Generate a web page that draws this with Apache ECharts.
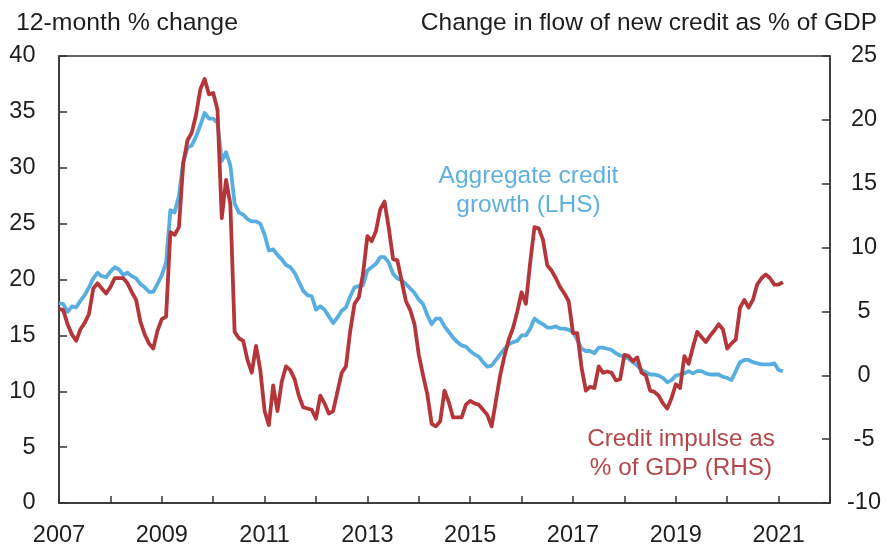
<!DOCTYPE html>
<html>
<head>
<meta charset="utf-8">
<script src="https://cdn.jsdelivr.net/npm/echarts@6/dist/echarts.min.js"></script>
<style>
html,body{margin:0;padding:0;background:#fff;}
#chart{width:890px;height:547px;}
</style>
</head>
<body>
<div id="chart"></div>
<script>
// Monthly data, starting January 2007
const startYear = 2007;
const xMin = 2007, xMax = 2022;
const leftTitle = '12-month % change';
const rightTitle = 'Change in flow of new credit as % of GDP';
const blueLabel = 'Aggregate credit\ngrowth (LHS)';
const redLabel = 'Credit impulse as\n% of GDP (RHS)';

// Aggregate credit growth, 12-month % change (LHS)
const creditGrowth = [
  17.9,17.8,17.1,17.6,17.5,18.1,18.6,19.3,20.1,20.6,20.3,20.2,
  20.7,21.1,20.9,20.4,20.6,20.3,20.1,19.6,19.3,18.9,18.9,19.6,
  20.4,21.5,26.2,26.0,27.5,30.5,31.8,32.0,32.8,33.8,34.9,34.4,
  34.4,34.0,30.6,31.4,30.2,26.8,26.0,25.8,25.4,25.2,25.2,25.0,
  24.0,22.6,22.7,22.2,21.8,21.3,21.1,20.6,19.8,19.0,18.6,18.5,
  17.3,17.6,17.3,16.7,16.1,16.6,17.2,17.5,18.5,19.3,19.4,19.5,
  20.8,21.1,21.4,22.0,22.0,21.5,20.5,20.1,19.9,19.6,19.2,18.8,
  18.2,17.8,16.8,16.0,16.5,16.5,15.8,15.3,14.8,14.4,14.1,14.0,
  13.6,13.3,13.1,12.6,12.2,12.3,12.8,13.3,13.8,14.2,14.4,14.5,
  15.0,15.0,15.6,16.5,16.2,16.0,15.7,15.7,15.8,15.6,15.6,15.5,
  15.3,14.6,13.8,13.6,13.6,13.4,13.9,13.9,13.8,13.7,13.4,13.2,
  13.1,12.9,12.6,12.3,11.9,11.7,11.5,11.5,11.4,11.2,10.8,11.0,
  11.4,11.5,11.6,11.8,11.6,11.8,11.8,11.6,11.5,11.5,11.5,11.3,
  11.2,11.0,11.8,12.6,12.8,12.8,12.6,12.5,12.4,12.4,12.4,12.5,
  11.9,11.8
];

// Credit impulse as % of GDP (RHS)
const creditImpulse = [
  5.2,5.1,4.0,3.2,2.7,3.6,4.1,4.8,6.8,7.2,6.8,6.4,
  6.9,7.6,7.6,7.6,7.2,6.5,5.9,4.2,3.2,2.5,2.1,3.5,
  4.4,4.6,11.2,11.0,11.6,16.6,18.4,19.0,20.4,22.4,23.2,22.0,
  22.1,20.8,12.3,15.3,13.4,3.4,2.9,2.7,1.2,0.2,2.3,0.4,
  -2.8,-3.9,-0.8,-2.8,-0.5,0.7,0.4,-0.3,-1.6,-2.5,-2.6,-2.7,
  -3.4,-1.6,-2.2,-3.0,-2.8,-1.3,0.2,0.7,3.5,5.6,6.1,8.0,
  10.9,10.5,11.3,13.0,13.6,11.5,9.1,9.0,7.4,5.8,5.1,4.0,
  1.6,0.0,-1.5,-3.8,-4.0,-3.6,-1.2,-2.1,-3.3,-3.3,-3.3,-2.3,
  -2.0,-2.2,-2.3,-2.7,-3.1,-4.0,-2.0,0.0,1.5,2.8,3.7,5.0,
  6.5,5.6,8.8,11.6,11.5,10.6,8.6,8.2,7.6,6.9,6.4,5.8,
  3.3,3.3,0.6,-1.2,-0.9,-1.0,0.7,0.2,0.3,0.2,-0.4,-0.3,
  1.6,1.5,1.1,1.4,0.2,0.0,-1.2,-1.3,-1.6,-2.2,-2.6,-1.8,
  -0.7,-1.0,1.5,0.9,2.2,3.4,3.0,2.6,3.1,3.5,4.0,3.6,
  2.1,2.5,2.8,5.3,5.9,5.3,5.9,7.1,7.6,7.9,7.6,7.1,
  7.1,7.3
];

const toSeries = arr => arr.map((v, i) => [startYear + i / 12, v]);

const FONT = '"Liberation Sans", Arial, Helvetica, sans-serif';
const TXT = '#1e1e1e';
const AXIS = '#333333';
const BLUE = '#58aee0';
const RED = '#b5363a';

const chart = echarts.init(document.getElementById('chart'), null, {renderer: 'canvas'});
chart.setOption({
  animation: false,
  backgroundColor: '#ffffff',
  textStyle: {fontFamily: FONT},
  grid: {left: 59, right: 60, top: 56, bottom: 44, containLabel: false, outerBoundsMode: 'none',
         show: true, borderColor: AXIS, borderWidth: 1.5, backgroundColor: 'transparent'},
  xAxis: {
    type: 'value', min: xMin, max: xMax, interval: 1,
    axisLine: {show: true, lineStyle: {color: AXIS, width: 1.5}},
    axisTick: {show: true, inside: true, length: 7, lineStyle: {color: AXIS, width: 1.5}},
    splitLine: {show: false},
    axisLabel: {
      margin: 21, fontSize: 23.5, color: TXT, fontFamily: FONT,
      formatter: v => { const y = Math.round(v); return (y % 2 === 1) ? String(y) : ''; }
    }
  },
  yAxis: [
    {
      type: 'value', min: 0, max: 40, interval: 5, position: 'left',
      axisLine: {show: true, lineStyle: {color: AXIS, width: 1.5}},
      axisTick: {show: true, inside: true, length: 8, lineStyle: {color: AXIS, width: 1.5}},
      splitLine: {show: false},
      axisLabel: {margin: 23.5, fontSize: 23.5, color: TXT, fontFamily: FONT, align: 'right'}
    },
    {
      type: 'value', min: -10, max: 25, interval: 5, position: 'right',
      axisLine: {show: true, lineStyle: {color: AXIS, width: 1.5}},
      axisTick: {show: true, inside: true, length: 8, lineStyle: {color: AXIS, width: 1.5}},
      splitLine: {show: false},
      axisLabel: {margin: 34, fontSize: 23.5, color: TXT, fontFamily: FONT, align: 'center'}
    }
  ],
  series: [
    {
      name: 'Aggregate credit growth (LHS)', type: 'line', yAxisIndex: 0,
      data: toSeries(creditGrowth), showSymbol: false, symbol: 'none',
      lineStyle: {color: BLUE, width: 3.8, join: 'round'}, z: 2
    },
    {
      name: 'Credit impulse as % of GDP (RHS)', type: 'line', yAxisIndex: 1,
      data: toSeries(creditImpulse), showSymbol: false, symbol: 'none',
      lineStyle: {color: RED, width: 3.8, join: 'round'}, z: 3
    }
  ],
  graphic: [
    {type: 'text', x: 16, y: 23, style: {text: leftTitle, fill: TXT, fontSize: 24.8, fontFamily: FONT, align: 'left', verticalAlign: 'middle'}},
    {type: 'text', x: 877, y: 23, style: {text: rightTitle, fill: TXT, fontSize: 24.5, fontFamily: FONT, align: 'right', verticalAlign: 'middle'}},
    {type: 'text', x: 528.5, y: 190.5, style: {text: blueLabel, fill: '#5fb0de', fontSize: 24.5, lineHeight: 29, fontFamily: FONT, align: 'center', verticalAlign: 'middle'}},
    {type: 'text', x: 681, y: 453.5, style: {text: redLabel, fill: '#b5474b', fontSize: 24.3, lineHeight: 29, fontFamily: FONT, align: 'center', verticalAlign: 'middle'}}
  ]
});
</script>
</body>
</html>
